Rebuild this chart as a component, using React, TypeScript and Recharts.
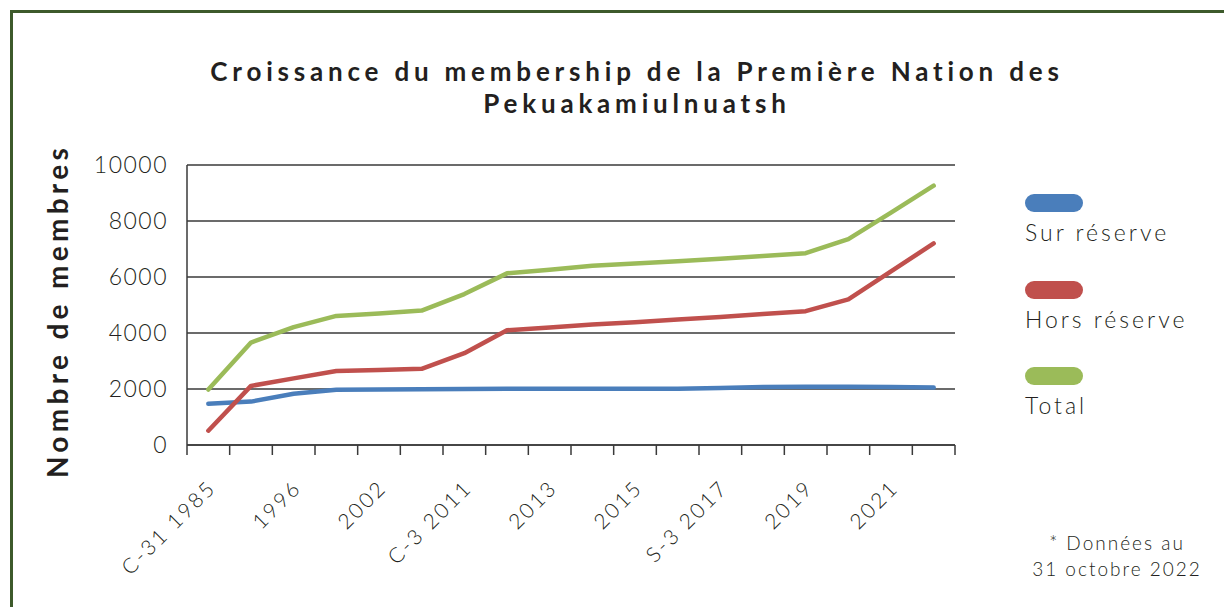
import { LineChart, Line, XAxis, YAxis, CartesianGrid, Label } from 'recharts'

// categories (Excel shows every second label)
const YEARS = ['C-31 1985', '1990', '1996', '1999', '2002', '2008', 'C-3 2011', '2012', '2013', '2014', '2015', '2016', 'S-3 2017', '2018', '2019', '2020', '2021', '2022']
const SUR_RESERVE = [1470, 1550, 1830, 1970, 1980, 1990, 2000, 2010, 2010, 2010, 2010, 2010, 2040, 2070, 2080, 2080, 2070, 2050]
const HORS_RESERVE = [510, 2110, 2380, 2640, 2680, 2720, 3280, 4100, 4200, 4300, 4380, 4480, 4570, 4680, 4780, 5200, 6200, 7200]
const TOTAL = [1980, 3660, 4210, 4610, 4700, 4800, 5390, 6130, 6260, 6400, 6480, 6560, 6650, 6750, 6850, 7350, 8300, 9260]
const Y_TICKS = [0, 2000, 4000, 6000, 8000, 10000]

const SERIES = [
  { key: 'sur', name: 'Sur réserve', color: '#4a7ebb' },
  { key: 'hors', name: 'Hors réserve', color: '#c0504d' },
  { key: 'total', name: 'Total', color: '#9bbb59' },
]

const data = YEARS.map((year, i) => ({
  year,
  sur: SUR_RESERVE[i],
  hors: HORS_RESERVE[i],
  total: TOTAL[i],
}))

const FONT = 'Lato, "Open Sans", sans-serif'
const INK = '#231f20'
const AXIS = '#3a3a3a'

// tick marks sit between categories, labels on every other category
function XTick(props: any) {
  const { x, y, payload, index } = props
  const half = payload?.offset || 21.3
  return (
    <g>
      <line x1={x - half} y1={y} x2={x - half} y2={y + 10} stroke={AXIS} strokeWidth={1.5} />
      {index === YEARS.length - 1 && (
        <line x1={x + half} y1={y} x2={x + half} y2={y + 10} stroke={AXIS} strokeWidth={1.5} />
      )}
      {index % 2 === 0 && (
        <text
          transform={`translate(${x + 9},${y + 44}) rotate(-45)`}
          textAnchor="end"
          fontFamily={FONT}
          fontWeight={300}
          fontSize={21}
          letterSpacing={2.5}
          fill={INK}
        >
          {payload.value}
        </text>
      )}
    </g>
  )
}

export default function App() {
  return (
    <div style={{ position: 'absolute', left: 0, top: 0, width: 1224, height: 607, background: '#fff', overflow: 'hidden', fontFamily: FONT }}>
      <div style={{ position: 'absolute', left: 10, top: 10, right: -10, bottom: -10, borderTop: '3px solid #3d5a2b', borderLeft: '3px solid #3d5a2b' }} />

      <div style={{ position: 'absolute', left: 137, width: 1000, top: 55, textAlign: 'center', fontSize: 26, fontWeight: 700, letterSpacing: 4.8, lineHeight: '32px', color: INK }}>
        Croissance du membership de la Première Nation des<br />Pekuakamiulnuatsh
      </div>

      <div style={{ position: 'absolute', left: 0, top: 0 }}>
        <LineChart width={1224} height={607} data={data} margin={{ top: 165, right: 269, bottom: 62, left: 0 }}>
          <CartesianGrid horizontal vertical={false} stroke={AXIS} strokeWidth={1.3} />
          <XAxis
            dataKey="year"
            scale="band"
            interval={0}
            height={100}
            tickLine={false}
            tickSize={0}
            tickMargin={0}
            axisLine={{ stroke: AXIS, strokeWidth: 1.5 }}
            tick={<XTick />}
          />
          <YAxis
            width={187}
            domain={[0, 10000]}
            ticks={Y_TICKS}
            tickLine={false}
            tickSize={0}
            tickMargin={19}
            axisLine={{ stroke: AXIS, strokeWidth: 1.5 }}
            tick={{ fontFamily: FONT, fontWeight: 300, fontSize: 23, letterSpacing: 1.5, fill: INK }}
          >
            <Label
              content={() => (
                <text
                  x={57}
                  y={311}
                  transform="rotate(-90 57 311)"
                  textAnchor="middle"
                  dominantBaseline="central"
                  fontFamily={FONT}
                  fontWeight={700}
                  fontSize={28}
                  letterSpacing={4.3}
                  fill={INK}
                >
                  Nombre de membres
                </text>
              )}
            />
          </YAxis>
          {SERIES.map(s => (
            <Line
              key={s.key}
              type="linear"
              dataKey={s.key}
              name={s.name}
              stroke={s.color}
              strokeWidth={4.5}
              strokeLinecap="round"
              strokeLinejoin="round"
              dot={false}
              activeDot={false}
              isAnimationActive={false}
            />
          ))}
        </LineChart>
      </div>

      {SERIES.map((s, i) => (
        <div key={s.key} style={{ position: 'absolute', left: 1025, top: 194 + i * 86.7 }}>
          <div style={{ width: 58, height: 18, borderRadius: 9, background: s.color }} />
          <div style={{ marginTop: 7, fontSize: 23, fontWeight: 300, letterSpacing: 3, color: INK, whiteSpace: 'nowrap', lineHeight: '26px' }}>
            {s.name}
          </div>
        </div>
      ))}

      <div style={{ position: 'absolute', left: 1017, width: 200, top: 530, textAlign: 'center', fontSize: 19, fontWeight: 300, letterSpacing: 2, lineHeight: '26px', color: INK, whiteSpace: 'nowrap' }}>
        * Données au<br />31 octobre 2022
      </div>
    </div>
  )
}
